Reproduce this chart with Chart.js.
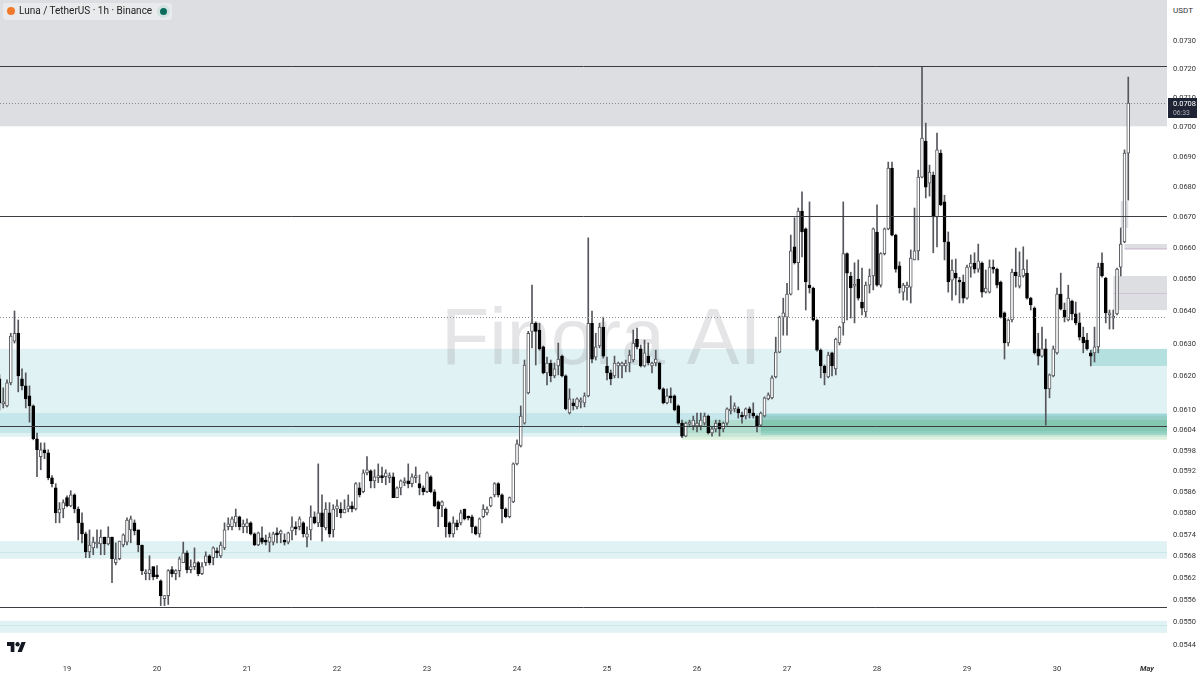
<!DOCTYPE html>
<html>
<head>
<meta charset="utf-8">
<style>
  html, body { margin: 0; background: #fff; }
  #wrap { position: relative; width: 1200px; height: 675px; overflow: hidden; }
  #chip { position: absolute; left: 3px; top: 3px; width: 169px; height: 17px; background: #e9eaeb; border-radius: 3px;
    font: 10px/15px Roboto, sans-serif; color: #222; white-space: nowrap; }
  #chip span { position: absolute; left: 16px; top: 0; }
  #chip i { position: absolute; border-radius: 50%; }
  #usdt { position: absolute; left: 1170px; top: 3px; width: 26px; height: 14px; background: #fff; border-radius: 2px;
    font: 8px/15px Roboto, sans-serif; color: #333; text-align: center; }
  #logo { position: absolute; left: 7px; top: 642px; width: 19px; height: 10px; }
</style>
</head>
<body>
<div id="wrap">
  <canvas id="chart" width="1200" height="675"></canvas>
  <div id="chip">
    <i style="left:4px;top:4px;width:8px;height:8px;background:#f0792b"></i>
    <span>Luna / TetherUS · 1h · Binance</span>
    <i style="left:154px;top:2px;width:13px;height:13px;background:#cfe3df"></i>
    <i style="left:157px;top:5px;width:7px;height:7px;background:#0b6b5d"></i>
  </div>
  <div id="usdt">USDT</div>
  <svg id="logo" viewBox="0 4 36 18" preserveAspectRatio="none"><path fill="#131722" d="M14 22H7V11H0V4h14v18zM28 22h-8l7.5-18h8L28 22z"/><circle fill="#131722" cx="20" cy="8" r="4"/></svg>
</div>
<script src="https://cdn.jsdelivr.net/npm/chart.js@4"></script>
<script>
// 1h candles, hour 0 is the 19th at 00:00
const firstHour = -18;
const opens = [
  .06190,.06115,.06109,.06178,.06305,.06329,.06190,.06169,.06139,.06109,
  .06012,.05960,.05980,.05971,.05899,.05870,.05799,.05810,.05842,.05819,
  .05850,.05810,.05771,.05740,.05690,.05701,.05712,.05712,.05731,.05712,
  .05731,.05660,.05671,.05709,.05717,.05751,.05771,.05751,.05709,.05630,
  .05630,.05649,.05627,.05610,.05562,.05570,.05641,.05630,.05638,.05660,
  .05687,.05641,.05649,.05660,.05630,.05660,.05679,.05674,.05693,.05679,
  .05701,.05760,.05760,.05771,.05788,.05760,.05760,.05771,.05740,.05709,
  .05729,.05723,.05717,.05717,.05743,.05740,.05723,.05717,.05748,.05760,
  .05760,.05771,.05731,.05751,.05788,.05771,.05799,.05757,.05799,.05751,
  .05810,.05810,.05799,.05810,.05819,.05810,.05870,.05859,.05913,.05919,
  .05890,.05899,.05905,.05902,.05899,.05902,.05842,.05870,.05885,.05890,
  .05882,.05899,.05882,.05870,.05859,.05902,.05859,.05830,.05819,.05810,
  .05771,.05740,.05771,.05771,.05810,.05790,.05788,.05760,.05740,.05788,
  .05799,.05819,.05850,.05882,.05850,.05810,.05788,.05830,.05939,.05991,
  .06058,.06148,.06335,.06360,.06339,.06287,.06208,.06238,.06199,.06229,
  .06259,.06199,.06088,.06118,.06106,.06121,.06118,.06139,.06360,.06256,
  .06290,.06348,.06229,.06208,.06199,.06229,.06229,.06229,.06238,.06247,
  .06311,.06281,.06229,.06259,.06229,.06238,.06238,.06160,.06118,.06139,
  .06139,.06109,.06058,.06020,.06055,.06050,.06050,.06050,.06058,.06079,
  .06029,.06041,.06058,.06041,.06058,.06094,.06100,.06100,.06082,.06079,
  .06100,.06088,.06079,.06052,.06079,.06130,.06133,.06196,.06271,.06379,
  .06379,.06451,.06601,.06550,.06717,.06659,.06479,.06470,.06370,.06277,
  .06229,.06196,.06269,.06220,.06299,.06361,.06579,.06508,.06476,.06498,
  .06426,.06395,.06479,.06508,.06649,.06479,.06579,.06659,.06859,.06639,
  .06540,.06457,.06470,.06473,.06559,.06588,.06829,.06950,.06809,.06836,
  .06698,.06909,.06747,.06617,.06495,.06517,.06495,.06489,.06438,.06536,
  .06549,.06530,.06549,.06457,.06457,.06536,.06530,.06489,.06392,.06299,
  .06370,.06520,.06476,.06508,.06517,.06438,.06407,.06281,.06259,.06281,
  .06160,.06199,.06269,.06451,.06401,.06370,.06429,.06389,.06361,.06317,
  .06308,.06269,.06269,.06287,.06549,.06501,.06386,.06376,.06389,.06536,
  .06617,.06909
];
const closes = [
  .06118,.06121,.06178,.06320,.06329,.06199,.06169,.06130,.06109,.06012,
  .05980,.05980,.05971,.05899,.05882,.05799,.05810,.05828,.05819,.05850,
  .05810,.05771,.05740,.05690,.05709,.05717,.05717,.05731,.05712,.05731,
  .05671,.05671,.05720,.05737,.05779,.05782,.05748,.05709,.05638,.05635,
  .05641,.05621,.05621,.05570,.05570,.05638,.05630,.05638,.05671,.05687,
  .05641,.05649,.05660,.05630,.05649,.05679,.05660,.05701,.05687,.05709,
  .05751,.05768,.05782,.05790,.05760,.05768,.05771,.05740,.05709,.05743,
  .05717,.05717,.05731,.05740,.05737,.05748,.05717,.05743,.05760,.05754,
  .05782,.05740,.05740,.05788,.05771,.05799,.05760,.05810,.05740,.05810,
  .05819,.05799,.05810,.05819,.05810,.05882,.05850,.05913,.05922,.05890,
  .05902,.05905,.05899,.05913,.05905,.05842,.05870,.05890,.05890,.05882,
  .05902,.05905,.05870,.05859,.05913,.05859,.05819,.05810,.05830,.05760,
  .05740,.05771,.05760,.05799,.05782,.05785,.05760,.05740,.05782,.05810,
  .05810,.05842,.05882,.05850,.05810,.05788,.05842,.05939,.05997,.06079,
  .06232,.06329,.06360,.06335,.06281,.06208,.06238,.06199,.06220,.06250,
  .06199,.06100,.06130,.06109,.06130,.06127,.06139,.06360,.06250,.06287,
  .06348,.06259,.06208,.06190,.06238,.06238,.06238,.06238,.06262,.06299,
  .06287,.06229,.06269,.06238,.06238,.06250,.06160,.06118,.06139,.06133,
  .06097,.06058,.06020,.06058,.06061,.06067,.06058,.06067,.06079,.06029,
  .06041,.06058,.06041,.06058,.06100,.06100,.06109,.06088,.06076,.06100,
  .06088,.06079,.06050,.06088,.06133,.06142,.06193,.06271,.06379,.06392,
  .06451,.06588,.06550,.06717,.06649,.06489,.06470,.06370,.06277,.06229,
  .06208,.06262,.06229,.06311,.06348,.06579,.06517,.06470,.06482,.06438,
  .06407,.06479,.06508,.06659,.06479,.06579,.06659,.06859,.06639,.06530,
  .06470,.06479,.06479,.06565,.06588,.06829,.06960,.06796,.06846,.06698,
  .06920,.06737,.06617,.06489,.06527,.06501,.06489,.06438,.06536,.06549,
  .06530,.06556,.06457,.06470,.06536,.06530,.06479,.06379,.06299,.06370,
  .06520,.06508,.06508,.06530,.06438,.06417,.06269,.06259,.06281,.06160,
  .06202,.06281,.06451,.06404,.06379,.06438,.06389,.06361,.06317,.06299,
  .06281,.06259,.06287,.06536,.06508,.06392,.06392,.06382,.06530,.06610,
  .06909,.07080
];
const highs = [
  .06202,.06163,.06187,.06329,.06398,.06370,.06220,.06208,.06169,.06112,
  .06029,.06000,.06000,.05980,.05905,.05882,.05828,.05836,.05847,.05862,
  .05853,.05816,.05799,.05745,.05751,.05731,.05751,.05751,.05731,.05760,
  .05731,.05715,.05720,.05740,.05785,.05790,.05779,.05751,.05709,.05641,
  .05679,.05649,.05652,.05613,.05570,.05641,.05649,.05641,.05676,.05717,
  .05693,.05668,.05701,.05663,.05660,.05690,.05682,.05704,.05701,.05717,
  .05771,.05785,.05788,.05810,.05790,.05779,.05782,.05774,.05743,.05745,
  .05760,.05737,.05743,.05745,.05757,.05751,.05740,.05745,.05788,.05774,
  .05788,.05774,.05760,.05819,.05802,.05939,.05850,.05828,.05828,.05822,
  .05836,.05828,.05836,.05850,.05830,.05885,.05885,.05922,.05960,.05922,
  .05922,.05939,.05930,.05922,.05913,.05913,.05873,.05893,.05899,.05939,
  .05910,.05930,.05907,.05876,.05916,.05905,.05865,.05833,.05833,.05813,
  .05774,.05788,.05779,.05807,.05810,.05790,.05793,.05762,.05785,.05822,
  .05816,.05844,.05885,.05885,.05853,.05813,.05844,.05942,.06009,.06109,
  .06247,.06335,.06479,.06364,.06360,.06290,.06256,.06247,.06238,.06299,
  .06262,.06202,.06160,.06130,.06133,.06133,.06148,.06630,.06398,.06329,
  .06360,.06379,.06256,.06217,.06259,.06241,.06241,.06247,.06277,.06339,
  .06345,.06293,.06308,.06299,.06241,.06277,.06241,.06163,.06160,.06163,
  .06142,.06112,.06067,.06061,.06067,.06079,.06088,.06088,.06088,.06082,
  .06047,.06067,.06067,.06061,.06103,.06139,.06118,.06106,.06091,.06103,
  .06106,.06118,.06082,.06091,.06136,.06148,.06199,.06317,.06382,.06438,
  .06485,.06639,.06695,.06727,.06780,.06662,.06747,.06473,.06373,.06281,
  .06232,.06271,.06271,.06314,.06351,.06747,.06582,.06520,.06550,.06559,
  .06533,.06489,.06530,.06662,.06737,.06582,.06662,.06879,.06879,.06642,
  .06553,.06485,.06489,.06591,.06727,.06852,.07205,.07011,.06869,.06846,
  .06977,.06920,.06769,.06649,.06559,.06562,.06504,.06511,.06543,.06575,
  .06582,.06610,.06553,.06527,.06559,.06559,.06533,.06492,.06395,.06373,
  .06530,.06597,.06585,.06601,.06559,.06441,.06411,.06329,.06348,.06311,
  .06205,.06290,.06470,.06517,.06423,.06479,.06432,.06426,.06392,.06348,
  .06329,.06277,.06348,.06549,.06582,.06504,.06401,.06401,.06533,.06662,
  .06920,.07170
];
const lows = [
  .06097,.06103,.06106,.06172,.06299,.06151,.06157,.06103,.06061,.06009,
  .05902,.05922,.05954,.05893,.05873,.05771,.05771,.05785,.05816,.05816,
  .05799,.05723,.05715,.05674,.05674,.05682,.05701,.05682,.05682,.05709,
  .05605,.05654,.05668,.05704,.05709,.05715,.05737,.05690,.05627,.05613,
  .05613,.05613,.05616,.05543,.05543,.05546,.05621,.05613,.05621,.05660,
  .05632,.05632,.05641,.05624,.05627,.05652,.05654,.05654,.05674,.05674,
  .05696,.05751,.05751,.05760,.05751,.05743,.05743,.05737,.05707,.05707,
  .05712,.05709,.05690,.05709,.05715,.05715,.05709,.05712,.05723,.05737,
  .05751,.05731,.05704,.05723,.05768,.05760,.05720,.05751,.05731,.05731,
  .05788,.05785,.05799,.05802,.05802,.05807,.05844,.05856,.05907,.05870,
  .05870,.05885,.05885,.05879,.05885,.05842,.05842,.05850,.05876,.05870,
  .05873,.05885,.05850,.05850,.05856,.05856,.05816,.05760,.05788,.05731,
  .05731,.05731,.05751,.05765,.05779,.05779,.05743,.05737,.05731,.05785,
  .05793,.05816,.05844,.05844,.05771,.05785,.05785,.05828,.05936,.05988,
  .06055,.06145,.06284,.06232,.06277,.06205,.06172,.06181,.06193,.06202,
  .06196,.06097,.06085,.06097,.06100,.06103,.06106,.06136,.06238,.06247,
  .06284,.06253,.06187,.06172,.06193,.06193,.06193,.06211,.06211,.06241,
  .06281,.06226,.06226,.06232,.06208,.06229,.06157,.06115,.06115,.06118,
  .06094,.06055,.06015,.06018,.06047,.06038,.06032,.06038,.06052,.06026,
  .06020,.06032,.06020,.06032,.06052,.06085,.06091,.06073,.06058,.06070,
  .06073,.06073,.06032,.06050,.06076,.06127,.06130,.06193,.06269,.06323,
  .06323,.06448,.06546,.06464,.06569,.06401,.06454,.06367,.06274,.06193,
  .06172,.06193,.06199,.06202,.06293,.06323,.06370,.06376,.06361,.06432,
  .06386,.06379,.06454,.06464,.06476,.06473,.06575,.06656,.06636,.06520,
  .06454,.06432,.06432,.06423,.06559,.06559,.06826,.06760,.06766,.06582,
  .06601,.06734,.06559,.06457,.06432,.06448,.06423,.06423,.06435,.06504,
  .06517,.06520,.06441,.06454,.06454,.06517,.06470,.06376,.06250,.06290,
  .06364,.06473,.06470,.06504,.06435,.06401,.06265,.06232,.06256,.06052,
  .06133,.06196,.06265,.06401,.06364,.06367,.06370,.06355,.06308,.06269,
  .06277,.06229,.06241,.06269,.06504,.06361,.06342,.06342,.06386,.06508,
  .06614,.06753
];
const priceTicks = [.0730,.0720,.0710,.0700,.0690,.0680,.0670,.0660,.0650,.0640,.0630,.0620,.0610,.0604,
  .0598,.0592,.0586,.0580,.0574,.0568,.0562,.0556,.0550,.0544];
const dayTicks = [0,24,48,72,96,120,144,168,192,216,240,264,288];
const dayLabels = ["19","20","21","22","23","24","25","26","27","28","29","30","May"];

const solidLevels = [.07208,.0670,.0605,.0554];
const dottedLevels = [.0708,.06379];

// order: grey cap, big teal, teal strip, two low teal bands, green stack, right-hand boxes
const zoneFrom = [null,null,null,null,null,164,185,185,273,279,282,281];
const zoneHigh = [.07444,.06281,.06088,.05720,.05502,.06067,.06085,.06079,.06281,.06508,.06610,.06750];
const zoneLow  = [.0700,.06029,.06018,.05671,.05470,.06009,.06023,.06035,.06229,.06401,.06591,.06662];
const zoneTo   = [null,null,null,null,null,null,null,null,null,null,null,283];
const zoneMid  = [null,null,null,.05690,.05491,null,null,null,null,.06454,.06597,null];

const GREY = "rgba(120,123,134,.25)", TEAL = "rgba(0,151,167,.12)";
const zoneColors = [GREY,TEAL,TEAL,TEAL,TEAL,"rgba(76,175,80,.18)","rgba(0,150,136,.2)","rgba(56,142,60,.1)","rgba(0,150,136,.2)",GREY,GREY,GREY];
const zoneMidColors = [null,null,null,"rgba(0,131,143,.1)","rgba(0,131,143,.1)",null,null,null,null,"rgba(156,39,176,.15)","rgba(156,39,176,.15)",null];

const backdrop = {
  id: "backdrop",
  beforeDatasetsDraw(chart) {
    const { ctx, chartArea: a, scales: { x, y } } = chart;
    ctx.save();
    zoneHigh.forEach((h, i) => {
      const l = zoneFrom[i] === null ? a.left : x.getPixelForValue(zoneFrom[i]);
      const r = zoneTo[i] === null ? a.right : x.getPixelForValue(zoneTo[i]);
      ctx.fillStyle = zoneColors[i];
      ctx.fillRect(l, y.getPixelForValue(h), r - l, y.getPixelForValue(zoneLow[i]) - y.getPixelForValue(h));
      if (zoneMid[i]) {
        ctx.fillStyle = zoneMidColors[i];
        ctx.fillRect(l, Math.round(y.getPixelForValue(zoneMid[i])), r - l, 1);
      }
    });
    ctx.font = "79px 'Liberation Sans'";
    ctx.fillStyle = "rgba(110,112,122,.18)";
    ctx.textBaseline = "alphabetic";
    ctx.fillText("Finora AI", 441, 364);
    ctx.restore();
  },
  afterDatasetsDraw(chart) {
    const { ctx, chartArea: a, scales: { y } } = chart;
    ctx.save();
    ctx.lineWidth = 1;
    ctx.strokeStyle = "#8a8c92";
    ctx.setLineDash([1, 2]);
    dottedLevels.forEach(v => {
      const p = Math.round(y.getPixelForValue(v)) + .5;
      ctx.beginPath(); ctx.moveTo(a.left, p); ctx.lineTo(a.right, p); ctx.stroke();
    });
    ctx.setLineDash([]);
    ctx.strokeStyle = "#3a3c42";
    solidLevels.forEach(v => {
      const p = Math.round(y.getPixelForValue(v)) + .5;
      ctx.beginPath(); ctx.moveTo(a.left, p); ctx.lineTo(a.right, p); ctx.stroke();
    });
    ctx.restore();
  },
  afterDraw(chart) {
    const { ctx, scales: { y } } = chart;
    const last = closes[closes.length - 1];
    const top = Math.round(y.getPixelForValue(last)) - 5;
    ctx.save();
    ctx.fillStyle = "#1e2433";
    ctx.fillRect(1168, top, 29, 20);
    ctx.font = "7.5px Roboto";
    ctx.textBaseline = "middle";
    ctx.textAlign = "left";
    ctx.fillStyle = "#fff";
    ctx.fillText(last.toFixed(4), 1173, top + 6);
    ctx.font = "6.8px Roboto";
    ctx.fillStyle = "#aeb3bd";
    ctx.fillText("06:33", 1173, top + 15);
    ctx.restore();
  },
};

const hours = opens.map((_, i) => firstHour + i);
const bodies = hours.map((h, i) => ({ x: h, y: [opens[i], closes[i]] }));
const wicks = hours.map((h, i) => ({ x: h, y: [lows[i], highs[i]] }));

new Chart(document.getElementById("chart"), {
  type: "bar",
  data: {
    datasets: [
      {
        data: bodies,
        grouped: false,
        order: 1,
        barThickness: 3,
        borderWidth: 1,
        borderSkipped: false,
        backgroundColor: ctx => (closes[ctx.dataIndex] >= opens[ctx.dataIndex] ? "#fff" : "#000"),
        borderColor: ctx => (closes[ctx.dataIndex] >= opens[ctx.dataIndex] ? "#55575c" : "#000"),
      },
      {
        data: wicks,
        grouped: false,
        order: 2,
        barThickness: 1,
        borderWidth: 0,
        backgroundColor: "#55575c",
      },
    ],
  },
  options: {
    responsive: false,
    animation: false,
    layout: { padding: 0 },
    plugins: { legend: { display: false }, tooltip: { enabled: false } },
    scales: {
      x: {
        type: "linear",
        offset: false,
        min: -17.867,
        max: 293.33,
        grid: { display: false, drawTicks: false, offset: false },
        border: { display: false },
        afterBuildTicks: s => { s.ticks = dayTicks.map(v => ({ value: v })); },
        afterFit: s => { s.height = 18; s.paddingLeft = 0; s.paddingRight = 0; },
        ticks: {
          autoSkip: false,
          maxRotation: 0,
          padding: 8,
          color: "#333",
          font: ctx => ({ family: "Roboto", size: 7.5, style: ctx.index === 12 ? "italic" : "normal", weight: ctx.index === 12 ? "bold" : "normal" }),
          callback: (v, i) => dayLabels[i],
        },
      },
      y: {
        type: "logarithmic",
        position: "right",
        bounds: "data",
        min: 0.05406,
        max: 0.07444,
        grid: { display: false, drawTicks: false },
        border: { display: false },
        afterBuildTicks: s => { s.ticks = priceTicks.map(v => ({ value: v })); },
        afterFit: s => { s.width = 33; s.paddingTop = 0; s.paddingBottom = 0; },
        ticks: {
          autoSkip: false,
          padding: 6,
          labelOffset: 1,
          color: "#333",
          font: { family: "Roboto", size: 7.5 },
          callback: v => Number(v).toFixed(4),
        },
      },
    },
  },
  plugins: [backdrop],
});
</script>
</body>
</html>
